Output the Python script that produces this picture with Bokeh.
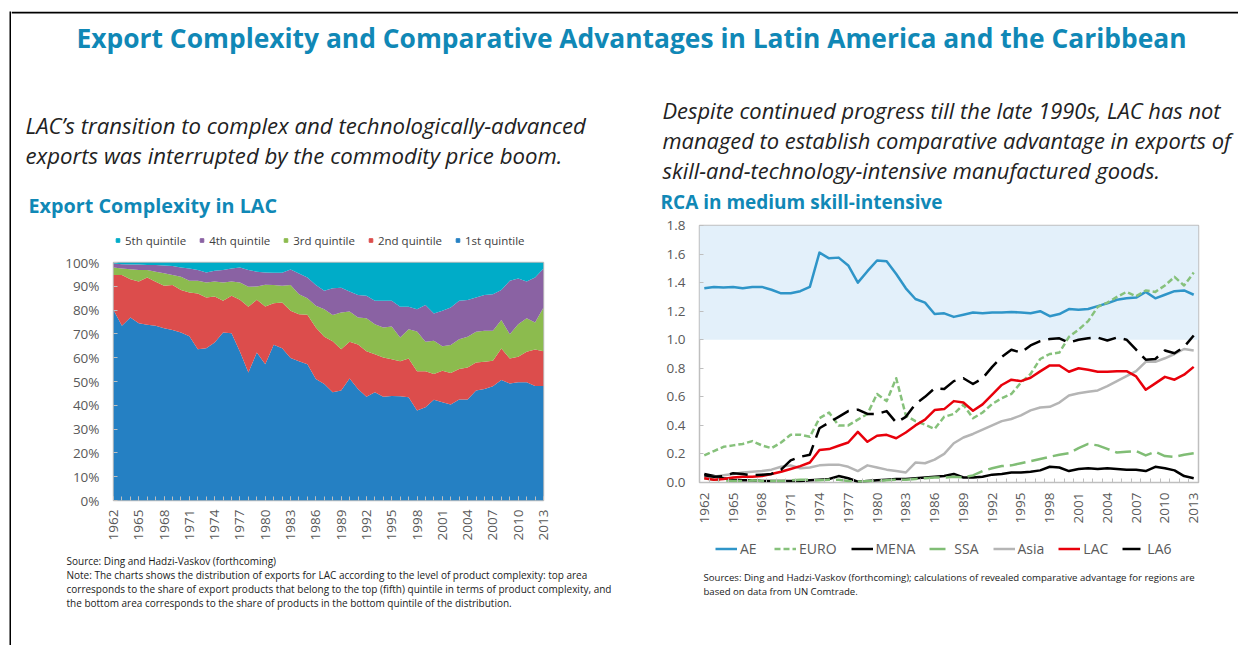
import math
from bokeh.plotting import figure
from bokeh.models import (Range1d, Label, Legend, LegendItem, FixedTicker, Spacer,
                          PrintfTickFormatter, ColumnDataSource, BoxAnnotation)
from bokeh.layouts import column, row
from bokeh.embed import file_html
from bokeh.resources import INLINE

# ---------------- data ----------------
years = list(range(1962, 2014))
year_ticks = list(range(1962, 2014, 3))

quintile_labels = ["1st quintile", "2nd quintile", "3rd quintile", "4th quintile", "5th quintile"]
q1 = [80.0, 73.4, 76.9, 74.5, 73.8, 73.4, 72.4, 71.6, 70.6, 69.0,
      63.6, 64.0, 66.4, 70.6, 70.3, 62.5, 53.8, 62.2, 57.3, 65.4,
      64.0, 59.9, 58.5, 57.3, 51.0, 48.9, 45.5, 46.2, 51.3, 46.9,
      43.6, 45.5, 43.6, 43.9, 43.8, 43.4, 37.8, 39.2, 42.3, 41.3,
      40.3, 42.4, 42.4, 46.2, 46.9, 48.0, 50.6, 49.2, 49.7, 49.7,
      48.1, 48.1]
q2 = [14.8, 21.3, 16.1, 17.5, 19.9, 18.5, 17.8, 18.9, 17.8, 18.4,
      23.4, 21.3, 19.3, 13.3, 15.7, 21.8, 27.6, 22.1, 24.2, 17.5,
      19.2, 19.8, 19.8, 20.7, 21.7, 19.9, 21.4, 17.4, 15.4, 18.6,
      19.1, 16.0, 16.5, 15.5, 14.7, 16.3, 16.5, 15.1, 10.8, 13.2,
      13.3, 12.8, 13.5, 11.8, 11.4, 10.7, 13.3, 10.5, 10.7, 12.8,
      15.3, 14.6]
q3 = [3.1, 2.8, 4.2, 4.8, 3.2, 4.2, 5.3, 4.3, 5.6, 4.9,
      5.3, 6.3, 6.3, 7.7, 6.0, 7.3, 8.4, 5.6, 9.1, 7.6,
      7.0, 10.8, 8.4, 7.0, 9.1, 11.6, 11.0, 15.4, 12.7, 11.4,
      13.9, 12.6, 12.6, 13.7, 10.0, 12.3, 16.7, 12.4, 14.0, 10.3,
      11.7, 12.6, 12.9, 12.9, 13.0, 12.6, 11.9, 10.2, 13.7, 14.1,
      11.4, 18.4]
q4 = [1.7, 1.8, 2.0, 2.4, 2.1, 2.8, 3.2, 3.7, 3.9, 5.2,
      4.5, 4.2, 4.5, 5.2, 5.5, 6.3, 7.0, 6.2, 5.2, 5.2,
      5.5, 6.6, 8.7, 8.7, 8.7, 7.7, 11.3, 10.4, 8.4, 9.4,
      9.4, 9.8, 11.2, 10.8, 12.9, 9.4, 9.4, 15.4, 11.5, 14.9,
      15.8, 16.1, 15.4, 14.4, 15.0, 15.4, 12.6, 22.4, 19.2, 15.4,
      18.9, 16.4]
q5 = [0.4, 0.7, 0.8, 0.8, 1.0, 1.1, 1.3, 1.5, 2.1, 2.5,
      3.2, 4.2, 3.5, 3.2, 2.5, 2.1, 3.2, 3.9, 4.2, 4.3,
      4.3, 2.9, 4.6, 6.3, 9.5, 11.9, 10.8, 10.6, 12.2, 13.7,
      14.0, 16.1, 16.1, 16.1, 18.6, 18.6, 19.6, 17.9, 21.4, 20.3,
      18.9, 16.1, 15.8, 14.7, 13.7, 13.3, 11.6, 7.7, 6.7, 8.0,
      6.3, 2.5]
pct_ticks = list(range(0, 101, 10))

rca_labels = ["AE", "EURO", "MENA", "SSA", "Asia", "LAC", "LA6"]
rca_threshold = 1.0
rca_ticks = [0.0, 0.2, 0.4, 0.6, 0.8, 1.0, 1.2, 1.4, 1.6, 1.8]
ae = [1.36, 1.37, 1.365, 1.37, 1.36, 1.37, 1.37, 1.35, 1.325, 1.325,
      1.34, 1.37, 1.61, 1.57, 1.575, 1.52, 1.40, 1.48, 1.555, 1.55,
      1.46, 1.36, 1.285, 1.26, 1.18, 1.185, 1.16, 1.175, 1.19, 1.185,
      1.19, 1.19, 1.195, 1.19, 1.185, 1.20, 1.165, 1.18, 1.215, 1.21,
      1.215, 1.235, 1.255, 1.28, 1.29, 1.295, 1.335, 1.29, 1.315, 1.34,
      1.345, 1.315]
euro = [0.19, 0.22, 0.25, 0.26, 0.27, 0.29, 0.26, 0.24, 0.28, 0.335,
        0.335, 0.32, 0.45, 0.49, 0.40, 0.40, 0.44, 0.48, 0.62, 0.57,
        0.73, 0.47, 0.43, 0.405, 0.375, 0.46, 0.48, 0.545, 0.45, 0.49,
        0.55, 0.59, 0.62, 0.70, 0.76, 0.865, 0.90, 0.91, 1.02, 1.07,
        1.13, 1.23, 1.26, 1.30, 1.335, 1.305, 1.345, 1.335, 1.38, 1.44,
        1.38, 1.47]
mena = [0.06, 0.045, 0.03, 0.02, 0.015, 0.015, 0.01, 0.01, 0.01, 0.01,
        0.01, 0.015, 0.02, 0.025, 0.045, 0.03, 0.005, 0.01, 0.015, 0.02,
        0.025, 0.025, 0.03, 0.035, 0.04, 0.045, 0.06, 0.035, 0.035, 0.04,
        0.055, 0.06, 0.07, 0.07, 0.075, 0.085, 0.11, 0.105, 0.08, 0.095,
        0.10, 0.095, 0.10, 0.095, 0.09, 0.09, 0.08, 0.11, 0.10, 0.085,
        0.045, 0.03]
ssa = [0.03, 0.02, 0.015, 0.01, 0.01, 0.015, 0.01, 0.01, 0.01, 0.015,
       0.02, 0.02, 0.015, 0.02, 0.02, 0.01, 0.005, 0.01, 0.01, 0.015,
       0.02, 0.02, 0.025, 0.03, 0.035, 0.035, 0.04, 0.035, 0.05, 0.08,
       0.10, 0.115, 0.12, 0.135, 0.15, 0.165, 0.18, 0.195, 0.205, 0.24,
       0.27, 0.26, 0.235, 0.21, 0.215, 0.22, 0.19, 0.215, 0.185, 0.18,
       0.195, 0.205]
asia = [0.04, 0.04, 0.05, 0.06, 0.07, 0.075, 0.08, 0.09, 0.11, 0.12,
        0.10, 0.105, 0.12, 0.125, 0.125, 0.11, 0.08, 0.12, 0.105, 0.09,
        0.08, 0.07, 0.14, 0.135, 0.16, 0.20, 0.275, 0.315, 0.34, 0.37,
        0.40, 0.43, 0.445, 0.47, 0.505, 0.525, 0.53, 0.56, 0.61, 0.625,
        0.635, 0.645, 0.675, 0.71, 0.745, 0.78, 0.845, 0.845, 0.87, 0.90,
        0.935, 0.925]
lac = [0.03, 0.02, 0.025, 0.035, 0.04, 0.04, 0.045, 0.06, 0.075, 0.095,
       0.115, 0.14, 0.227, 0.234, 0.257, 0.28, 0.355, 0.285, 0.327, 0.334,
       0.31, 0.35, 0.40, 0.44, 0.507, 0.514, 0.57, 0.56, 0.503, 0.547,
       0.615, 0.683, 0.72, 0.71, 0.734, 0.778, 0.82, 0.82, 0.776, 0.80,
       0.79, 0.776, 0.776, 0.78, 0.78, 0.743, 0.65, 0.694, 0.74, 0.72,
       0.755, 0.81]
la6 = [0.05, 0.04, 0.045, 0.065, 0.06, 0.05, 0.055, 0.06, 0.09, 0.155,
       0.18, 0.195, 0.38, 0.42, 0.46, 0.50, 0.51, 0.48, 0.48, 0.50,
       0.42, 0.46, 0.55, 0.60, 0.66, 0.655, 0.71, 0.73, 0.69, 0.73,
       0.81, 0.88, 0.93, 0.91, 0.96, 0.99, 1.005, 1.01, 0.98, 1.0,
       1.01, 1.015, 0.995, 1.015, 1.0, 0.93, 0.86, 0.865, 0.925, 0.905,
       0.95, 1.03]

# ---------------- texts ----------------
TITLE = "Export Complexity and Comparative Advantages in Latin America and the Caribbean"
LEFT_SUB = ["LAC\u2019s transition to complex and technologically-advanced",
            "exports was interrupted by the commodity price boom."]
RIGHT_SUB = ["Despite continued progress till the late 1990s, LAC has not",
             "managed to establish comparative advantage in exports of",
             "skill-and-technology-intensive manufactured goods."]
LEFT_TITLE = "Export Complexity in LAC"
RIGHT_TITLE = "RCA in medium skill-intensive"
LEFT_NOTE = ["Source: Ding and Hadzi-Vaskov (forthcoming)",
             "Note: The charts shows the distribution of exports for LAC according to the level of product complexity: top area",
             "corresponds to the share of export products that belong to the top (fifth) quintile in terms of product complexity, and",
             "the bottom area corresponds to the share of products in the bottom quintile of the distribution."]
RIGHT_NOTE = ["Sources: Ding and Hadzi-Vaskov (forthcoming); calculations of revealed comparative advantage for regions are",
              "based on data from UN Comtrade."]

# ---------------- style ----------------
FONT = "Open Sans"
TEAL = "#1088b6"
GRAY = "#595959"
AXIS_GRAY = "#bfbfbf"
Q_COLORS = ["#2580c3", "#dc4d4c", "#8cbb4e", "#8a62a3", "#00acc8"]
RCA_COLORS = ["#2f95c8", "#86c17b", "#000000", "#80bd75", "#b5b5b5", "#e8000b", "#000000"]
RCA_DASHES = ["solid", "6 3", "solid", "16 6", "solid", "solid", "18 8"]
NAN = float("nan")


def text_panel(w, h, fill="white"):
    f = figure(width=w, height=h, x_range=Range1d(0, w), y_range=Range1d(h, 0),
               x_axis_location=None, y_axis_location=None, frame_align=False,
               output_backend="svg", toolbar_location=None, min_border=0,
               background_fill_color=fill, border_fill_color=fill)
    f.grid.visible = False
    f.outline_line_color = None
    return f


def add_text(f, x, y, text, size, style="normal", color="#1a1a1a", align="left"):
    f.add_layout(Label(x=x, y=y, text=text, text_font=FONT, text_font_size=size,
                       text_font_style=style, text_color=color, text_align=align,
                       text_baseline="middle"))


def style_axes(p):
    for ax in (p.xaxis[0], p.yaxis[0]):
        ax.axis_line_color = None
        ax.major_tick_in = 4
        ax.major_tick_out = 0
        ax.minor_tick_in = 4
        ax.minor_tick_out = 0
        ax.major_tick_line_color = AXIS_GRAY
        ax.minor_tick_line_color = AXIS_GRAY
        ax.major_label_text_font = FONT
        ax.major_label_text_font_size = "13.5px"
        ax.major_label_text_color = GRAY
    p.xaxis.major_label_orientation = math.pi / 2
    p.yaxis.major_label_standoff = 14
    p.grid.visible = False
    p.outline_line_color = AXIS_GRAY
    p.outline_line_width = 1.5


# title (with the top border line of the page frame)
title_fig = text_panel(1227, 62)
title_fig.add_layout(BoxAnnotation(top=0, bottom=2, fill_color="#000000", fill_alpha=1.0,
                                   line_color=None))
add_text(title_fig, 620, 26, TITLE, "26.4px", "bold", TEAL, "center")

# ---------------- left column ----------------
left_head = text_panel(622, 179)
add_text(left_head, 14, 52, LEFT_SUB[0], "22.2px", "italic", "#222222")
add_text(left_head, 14, 82, LEFT_SUB[1], "22.2px", "italic", "#222222")
add_text(left_head, 17, 132, LEFT_TITLE, "19.8px", "bold", TEAL)
# legend swatches (legend-only renderers holding no drawable point)
q_swatch = [left_head.scatter(x=[NAN], y=[NAN], marker="square", size=9, color=c) for c in Q_COLORS]
leg1 = Legend(items=[LegendItem(label=quintile_labels[i], renderers=[q_swatch[i]]) for i in (4, 3, 2, 1, 0)],
              orientation="horizontal", location=(102, 4), glyph_width=9, glyph_height=16,
              label_height=16, label_standoff=3, spacing=11, padding=0, margin=0,
              label_text_font=FONT, label_text_font_size="11.5px", label_text_color="#404040",
              border_line_color=None, background_fill_alpha=0)
left_head.add_layout(leg1, "center")

src = ColumnDataSource(dict(year=years, q1=q1, q2=q2, q3=q3, q4=q4, q5=q5))
p1 = figure(frame_width=430, frame_height=238, min_border_left=102, min_border_right=90,
            min_border_top=10, min_border_bottom=40, frame_align=False,
            x_range=Range1d(years[0], years[-1]), y_range=Range1d(0, 100),
            output_backend="svg", toolbar_location=None)
p1.varea_stack(stackers=["q1", "q2", "q3", "q4", "q5"], x="year", color=Q_COLORS, source=src)
style_axes(p1)
p1.xaxis.ticker = FixedTicker(ticks=year_ticks, minor_ticks=years)
p1.yaxis.ticker = FixedTicker(ticks=pct_ticks, minor_ticks=[])
p1.yaxis.formatter = PrintfTickFormatter(format="%d%%")
p1.xaxis.major_label_standoff = 9

left_foot = text_panel(622, 99)
for i, line in enumerate(LEFT_NOTE):
    add_text(left_foot, 55, 17 + 14 * i, line, "10px")

# ---------------- right column ----------------
right_head = text_panel(605, 140)
for i, line in enumerate(RIGHT_SUB):
    add_text(right_head, 29, 37 + 30 * i, line, "21.9px", "italic", "#222222")
add_text(right_head, 27, 128, RIGHT_TITLE, "19px", "bold", TEAL)

p2 = figure(frame_width=499, frame_height=257, min_border_left=66, min_border_right=40,
            min_border_top=12, min_border_bottom=48, frame_align=False,
            x_range=Range1d(years[0] - 0.5, years[-1] + 0.5), y_range=Range1d(0, 1.8),
            output_backend="svg", toolbar_location=None)
p2.add_layout(BoxAnnotation(bottom=rca_threshold, fill_color="#e3f0fa", fill_alpha=1.0,
                            line_color=None, level="underlay"))
series = [ae, euro, mena, ssa, asia, lac, la6]
for vals, c, d in zip(series, RCA_COLORS, RCA_DASHES):
    p2.line(years, vals, line_color=c, line_width=2.5, line_dash=d, line_join="round")
style_axes(p2)
p2.xaxis.ticker = FixedTicker(ticks=year_ticks, minor_ticks=[y - 0.5 for y in years] + [years[-1] + 0.5])
p2.yaxis.ticker = FixedTicker(ticks=rca_ticks, minor_ticks=[])
p2.yaxis.formatter = PrintfTickFormatter(format="%.1f")
p2.xaxis.major_tick_in = 0
p2.xaxis.major_label_standoff = 10

right_foot = text_panel(605, 109)
rca_swatch = [right_foot.line(x=[NAN], y=[NAN], line_color=c, line_width=2.5, line_dash=d)
              for c, d in zip(RCA_COLORS, RCA_DASHES)]
leg2 = Legend(items=[LegendItem(label=lab, renderers=[r]) for lab, r in zip(rca_labels, rca_swatch)],
              orientation="horizontal", location=(82, 81), glyph_width=22, glyph_height=19,
              label_height=19, label_standoff=3, spacing=14, padding=0, margin=0,
              label_text_font=FONT, label_text_font_size="14px", label_text_color=GRAY,
              border_line_color=None, background_fill_alpha=0)
right_foot.add_layout(leg2, "center")
for i, line in enumerate(RIGHT_NOTE):
    add_text(right_foot, 70, 47 + 14 * i, line, "9.6px")

# ---------------- page frame ----------------
left_line = text_panel(2, 634, fill="#000000")

left_col = column(left_head, p1, left_foot)
right_col = column(right_head, p2, right_foot)
main = column(title_fig, row(left_col, right_col))
page = column(Spacer(width=1, height=11),
              row(Spacer(width=9, height=1), left_line, main))

open("out.html", "w").write(file_html(page, INLINE))
